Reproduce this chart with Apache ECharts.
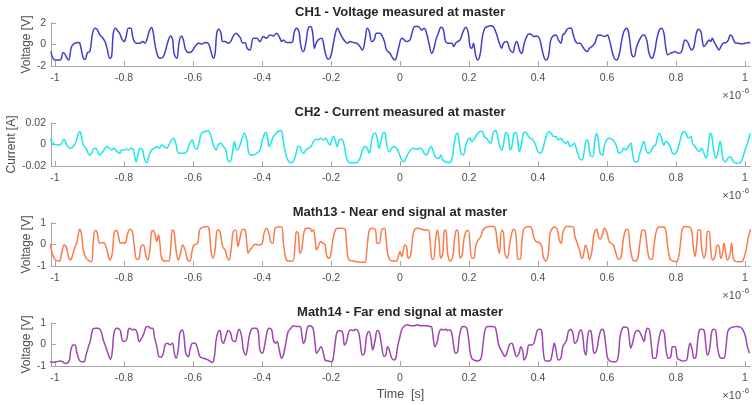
<!DOCTYPE html>
<html>
<head>
    <meta charset="utf-8">
    <title>CH1 / CH2 / Math13 / Math14</title>
    <script src="https://cdn.jsdelivr.net/npm/echarts@6.0.0/dist/echarts.min.js"></script>
    <style>
        html, body { margin: 0; padding: 0; background: #fff; }
        #main { width: 752px; height: 405px; }
    </style>
</head>
<body>
<div id="main"></div>
<script>
    // time in units of 1e-6 s
    var xTicks = [-1, -0.8, -0.6, -0.4, -0.2, 0, 0.2, 0.4, 0.6, 0.8, 1];

    var ch1 = [
        [-1.012,-0.66],[-1.000,-1.44],[-0.985,-1.44],[-0.976,-0.75],[-0.961,-1.44],[-0.952,-0.19],[-0.942,0.12],[-0.932,0.18],[-0.928,0.12],[-0.918,-1.28],
        [-0.913,-1.38],[-0.906,-0.75],[-0.899,-0.66],[-0.891,1.05],[-0.884,1.52],[-0.877,1.36],[-0.870,0.89],[-0.865,0.74],[-0.855,0.27],[-0.848,-0.51],
        [-0.841,-1.28],[-0.836,-1.13],[-0.831,1.05],[-0.824,1.52],[-0.819,1.30],[-0.813,1.05],[-0.807,0.58],[-0.800,0.27],[-0.794,0.74],[-0.787,1.52],
        [-0.780,1.52],[-0.775,0.74],[-0.770,0.27],[-0.763,0.12],[-0.754,0.12],[-0.746,0.27],[-0.739,0.12],[-0.734,0.43],[-0.727,1.21],[-0.720,1.58],
        [-0.715,1.05],[-0.710,-0.04],[-0.703,-0.97],[-0.696,-1.28],[-0.686,-1.13],[-0.678,-0.35],[-0.671,0.43],[-0.665,0.80],[-0.659,0.43],[-0.655,-0.82],
        [-0.647,-1.28],[-0.640,0.27],[-0.633,0.80],[-0.628,0.43],[-0.621,-0.51],[-0.613,-0.75],[-0.604,-0.66],[-0.594,-0.19],[-0.584,0.12],[-0.575,0.05],
        [-0.565,0.18],[-0.556,0.12],[-0.549,-0.51],[-0.541,-1.28],[-0.536,-0.82],[-0.531,1.05],[-0.525,1.42],[-0.519,1.05],[-0.514,0.27],[-0.507,0.27],
        [-0.498,0.12],[-0.491,0.27],[-0.483,0.80],[-0.475,1.05],[-0.469,0.89],[-0.462,0.58],[-0.456,0.12],[-0.449,0.18],[-0.443,-0.35],[-0.435,-0.51],
        [-0.425,0.58],[-0.415,0.58],[-0.406,0.27],[-0.396,0.74],[-0.387,0.58],[-0.377,0.89],[-0.367,0.80],[-0.358,1.05],[-0.348,0.58],[-0.343,0.27],
        [-0.338,0.43],[-0.329,0.18],[-0.314,0.18],[-0.306,1.21],[-0.300,1.52],[-0.293,1.21],[-0.287,-0.19],[-0.280,-0.66],[-0.273,0.12],[-0.266,1.52],
        [-0.259,1.67],[-0.253,1.05],[-0.248,-0.35],[-0.243,0.12],[-0.237,0.43],[-0.227,0.58],[-0.222,0.12],[-0.215,-0.97],[-0.208,-1.38],[-0.201,-1.13],
        [-0.193,0.12],[-0.186,1.21],[-0.181,1.52],[-0.174,1.05],[-0.166,0.58],[-0.159,0.27],[-0.153,0.12],[-0.145,0.27],[-0.135,0.18],[-0.126,0.12],
        [-0.116,-0.19],[-0.109,-0.51],[-0.101,0.49],[-0.095,1.52],[-0.089,1.21],[-0.082,0.27],[-0.075,0.43],[-0.068,1.05],[-0.058,1.05],[-0.051,0.74],
        [-0.045,0.27],[-0.039,-0.51],[-0.029,-0.82],[-0.021,-1.28],[-0.014,-1.44],[-0.010,-1.13],[-0.003,-0.19],[0.005,0.58],[0.010,0.49],[0.019,0.27],
        [0.029,0.43],[0.036,1.21],[0.043,1.67],[0.053,1.67],[0.063,1.36],[0.070,1.52],[0.077,1.05],[0.084,0.12],[0.092,-0.82],[0.097,-0.51],
        [0.104,0.43],[0.111,1.05],[0.119,1.61],[0.126,1.36],[0.132,0.27],[0.140,0.12],[0.150,0.12],[0.156,-0.19],[0.161,0.12],[0.167,0.27],
        [0.174,0.43],[0.183,1.21],[0.191,1.61],[0.198,1.05],[0.203,-0.19],[0.208,-0.35],[0.213,0.12],[0.219,-0.97],[0.225,-1.44],[0.232,-0.97],
        [0.239,0.74],[0.246,1.52],[0.254,1.67],[0.263,1.74],[0.270,1.67],[0.277,1.21],[0.282,0.74],[0.288,0.12],[0.295,-0.35],[0.300,0.12],
        [0.309,0.27],[0.319,-0.51],[0.327,-0.75],[0.333,-0.04],[0.338,0.27],[0.348,-0.66],[0.353,-0.82],[0.359,-0.04],[0.367,0.74],[0.375,0.99],
        [0.382,0.89],[0.388,0.74],[0.396,0.80],[0.404,0.58],[0.411,-0.35],[0.417,-1.13],[0.423,-1.44],[0.430,-1.13],[0.437,0.43],[0.444,0.80],
        [0.452,0.89],[0.459,0.43],[0.466,0.12],[0.472,0.89],[0.478,1.05],[0.483,1.36],[0.490,1.52],[0.496,1.52],[0.501,1.05],[0.507,0.43],
        [0.514,0.12],[0.522,0.12],[0.529,-0.19],[0.536,-0.51],[0.543,-0.66],[0.549,-0.35],[0.556,-0.19],[0.565,0.12],[0.572,0.80],[0.580,0.89],
        [0.587,0.80],[0.594,0.74],[0.601,0.89],[0.607,0.43],[0.614,-0.51],[0.621,-1.28],[0.628,-1.44],[0.635,-0.97],[0.643,0.43],[0.649,1.21],
        [0.657,1.52],[0.662,1.21],[0.667,0.12],[0.672,-0.97],[0.678,-1.13],[0.686,-0.19],[0.694,0.43],[0.701,0.80],[0.707,0.89],[0.715,0.43],
        [0.722,-0.82],[0.730,-1.28],[0.737,-0.82],[0.744,0.43],[0.752,1.36],[0.758,1.52],[0.765,1.05],[0.770,-0.19],[0.776,-0.97],[0.783,-0.82],
        [0.790,-0.75],[0.797,-0.66],[0.807,-0.82],[0.816,-0.66],[0.821,-0.04],[0.826,0.43],[0.833,0.27],[0.839,-0.19],[0.845,-0.51],[0.852,-0.19],
        [0.858,0.89],[0.865,1.42],[0.872,1.21],[0.876,0.43],[0.881,-0.19],[0.889,0.12],[0.896,0.43],[0.901,0.27],[0.905,0.58],[0.910,0.27],
        [0.918,-0.19],[0.925,-0.51],[0.930,-0.19],[0.937,0.12],[0.945,0.18],[0.952,0.43],[0.957,0.89],[0.963,0.74],[0.971,0.18],[0.981,0.12],
        [0.990,0.05],[1.000,0.12],[1.010,0.18],[1.015,0.12]
    ];

    var ch2 = [
        [-1.014,0.0049],[-1.005,0.0012],[-0.995,-0.0004],[-0.986,-0.0004],[-0.974,0.0049],[-0.966,-0.0004],[-0.957,-0.0035],[-0.947,-0.0019],[-0.939,0.0027],[-0.932,0.0105],
        [-0.928,0.0121],[-0.923,0.0074],[-0.918,-0.0004],[-0.910,-0.0035],[-0.900,-0.0097],[-0.894,-0.0082],[-0.886,-0.0035],[-0.879,-0.0045],[-0.871,-0.0097],[-0.865,-0.0082],
        [-0.858,-0.0051],[-0.850,-0.0019],[-0.842,-0.0035],[-0.836,-0.0051],[-0.829,-0.0035],[-0.821,-0.0066],[-0.813,-0.0082],[-0.807,-0.0051],[-0.800,-0.0051],[-0.794,-0.0045],
        [-0.787,-0.0051],[-0.780,-0.0035],[-0.773,-0.0045],[-0.765,-0.0160],[-0.758,-0.0066],[-0.754,-0.0035],[-0.746,-0.0051],[-0.741,-0.0128],[-0.734,-0.0169],[-0.727,-0.0097],
        [-0.720,-0.0051],[-0.712,-0.0035],[-0.705,-0.0019],[-0.698,-0.0035],[-0.691,-0.0004],[-0.684,-0.0019],[-0.676,-0.0035],[-0.670,-0.0004],[-0.662,0.0043],[-0.657,0.0058],
        [-0.650,0.0012],[-0.642,-0.0082],[-0.633,-0.0082],[-0.623,-0.0082],[-0.616,-0.0051],[-0.609,0.0012],[-0.602,0.0043],[-0.596,-0.0019],[-0.589,-0.0045],[-0.583,0.0012],
        [-0.575,0.0105],[-0.565,0.0121],[-0.556,0.0127],[-0.549,0.0089],[-0.541,-0.0004],[-0.533,-0.0051],[-0.527,-0.0004],[-0.520,0.0012],[-0.512,-0.0019],[-0.505,-0.0051],
        [-0.499,-0.0144],[-0.493,-0.0160],[-0.486,-0.0082],[-0.480,0.0027],[-0.473,-0.0051],[-0.467,-0.0035],[-0.459,0.0043],[-0.451,0.0105],[-0.444,0.0043],[-0.440,-0.0051],
        [-0.433,-0.0097],[-0.425,-0.0097],[-0.415,-0.0082],[-0.406,-0.0051],[-0.396,0.0074],[-0.389,0.0111],[-0.384,0.0058],[-0.379,-0.0019],[-0.374,0.0012],[-0.367,0.0074],
        [-0.359,0.0105],[-0.353,0.0121],[-0.345,0.0130],[-0.340,0.0074],[-0.335,-0.0035],[-0.329,-0.0113],[-0.322,-0.0160],[-0.314,-0.0169],[-0.307,-0.0144],[-0.301,-0.0082],
        [-0.295,-0.0019],[-0.290,-0.0019],[-0.285,-0.0066],[-0.280,-0.0082],[-0.273,-0.0051],[-0.266,-0.0035],[-0.258,-0.0019],[-0.251,0.0027],[-0.244,0.0049],[-0.237,0.0043],
        [-0.230,0.0058],[-0.222,0.0043],[-0.215,0.0058],[-0.210,0.0027],[-0.203,-0.0004],[-0.198,0.0043],[-0.193,0.0074],[-0.188,0.0043],[-0.182,-0.0019],[-0.176,0.0043],
        [-0.169,0.0049],[-0.162,-0.0004],[-0.155,-0.0128],[-0.145,-0.0169],[-0.135,-0.0169],[-0.126,-0.0169],[-0.116,-0.0128],[-0.109,-0.0051],[-0.101,-0.0019],[-0.095,-0.0035],
        [-0.089,-0.0082],[-0.084,-0.0004],[-0.079,0.0089],[-0.072,0.0105],[-0.066,0.0058],[-0.061,-0.0035],[-0.055,0.0027],[-0.048,0.0111],[-0.043,0.0105],[-0.039,0.0012],
        [-0.032,-0.0066],[-0.024,-0.0035],[-0.017,-0.0019],[-0.010,-0.0035],[-0.003,-0.0082],[0.005,-0.0144],[0.012,-0.0160],[0.017,-0.0128],[0.024,-0.0082],[0.031,-0.0051],
        [0.039,-0.0035],[0.048,-0.0045],[0.058,-0.0035],[0.065,-0.0051],[0.070,-0.0082],[0.077,-0.0097],[0.084,-0.0051],[0.090,-0.0019],[0.095,-0.0051],[0.100,-0.0097],
        [0.106,-0.0128],[0.113,-0.0128],[0.118,-0.0097],[0.124,-0.0144],[0.132,-0.0160],[0.142,-0.0169],[0.150,-0.0144],[0.156,-0.0019],[0.162,0.0089],[0.167,0.0105],
        [0.172,0.0012],[0.177,-0.0082],[0.183,-0.0097],[0.190,-0.0019],[0.196,0.0043],[0.203,0.0058],[0.208,0.0027],[0.214,0.0043],[0.222,0.0089],[0.232,0.0121],
        [0.239,0.0121],[0.244,0.0074],[0.251,0.0058],[0.258,0.0027],[0.263,0.0012],[0.270,0.0105],[0.277,0.0130],[0.283,0.0074],[0.288,-0.0004],[0.295,-0.0051],
        [0.302,0.0043],[0.307,0.0111],[0.314,0.0074],[0.319,-0.0051],[0.324,-0.0019],[0.331,0.0105],[0.336,0.0111],[0.341,0.0043],[0.346,-0.0066],[0.351,-0.0019],
        [0.358,0.0105],[0.364,0.0114],[0.370,0.0089],[0.377,0.0058],[0.384,0.0049],[0.391,0.0012],[0.398,-0.0051],[0.404,-0.0082],[0.411,-0.0066],[0.417,-0.0004],
        [0.425,0.0089],[0.432,0.0121],[0.438,0.0105],[0.445,0.0074],[0.451,0.0074],[0.459,0.0043],[0.466,0.0058],[0.473,0.0027],[0.480,0.0012],[0.486,0.0027],
        [0.493,-0.0019],[0.500,-0.0004],[0.505,0.0012],[0.512,-0.0051],[0.520,-0.0128],[0.527,-0.0144],[0.533,-0.0082],[0.541,0.0043],[0.546,0.0027],[0.551,-0.0097],
        [0.558,-0.0113],[0.565,0.0043],[0.570,0.0105],[0.575,0.0043],[0.580,-0.0082],[0.587,-0.0097],[0.592,-0.0019],[0.599,0.0043],[0.607,0.0058],[0.614,0.0049],
        [0.621,0.0027],[0.628,-0.0019],[0.635,-0.0082],[0.643,-0.0066],[0.649,-0.0035],[0.655,-0.0051],[0.662,-0.0019],[0.669,0.0012],[0.674,-0.0082],[0.681,-0.0160],
        [0.688,-0.0160],[0.694,-0.0097],[0.701,-0.0019],[0.707,0.0027],[0.713,-0.0051],[0.720,-0.0082],[0.727,-0.0066],[0.734,-0.0019],[0.741,-0.0004],[0.747,0.0074],
        [0.752,0.0105],[0.758,0.0058],[0.765,-0.0004],[0.771,0.0027],[0.778,0.0012],[0.785,-0.0035],[0.790,-0.0082],[0.797,-0.0088],[0.804,-0.0051],[0.810,0.0012],
        [0.816,0.0089],[0.823,0.0121],[0.829,0.0105],[0.836,0.0058],[0.843,0.0074],[0.848,0.0012],[0.855,-0.0019],[0.862,-0.0051],[0.868,-0.0066],[0.874,-0.0035],
        [0.881,-0.0082],[0.887,-0.0128],[0.894,-0.0019],[0.899,0.0105],[0.903,0.0089],[0.908,-0.0019],[0.915,-0.0128],[0.921,-0.0082],[0.928,0.0027],[0.932,-0.0035],
        [0.937,-0.0144],[0.944,-0.0160],[0.950,-0.0128],[0.957,-0.0113],[0.961,-0.0128],[0.966,-0.0160],[0.976,-0.0175],[0.986,-0.0169],[0.993,-0.0128],[1.000,-0.0051],
        [1.007,0.0012],[1.015,0.0105]
    ];

    var math13 = [
        [-1.015,0.06],[-1.005,-0.56],[-0.997,-0.74],[-0.987,-0.77],[-0.981,-0.41],[-0.973,-0.02],[-0.966,-0.17],[-0.961,-0.56],[-0.955,-0.72],[-0.949,-0.49],
        [-0.942,-0.10],[-0.937,0.06],[-0.932,0.53],[-0.928,0.71],[-0.923,0.45],[-0.918,-0.25],[-0.910,-0.64],[-0.900,-0.77],[-0.894,-0.80],[-0.889,0.14],
        [-0.884,0.65],[-0.879,0.60],[-0.874,0.21],[-0.870,0.06],[-0.860,0.09],[-0.852,-0.10],[-0.845,-0.56],[-0.841,-0.72],[-0.834,-0.41],[-0.828,0.60],
        [-0.821,0.65],[-0.816,0.37],[-0.810,0.06],[-0.802,0.09],[-0.797,0.06],[-0.789,0.53],[-0.783,0.71],[-0.776,0.60],[-0.770,-0.10],[-0.763,-0.69],
        [-0.756,-0.64],[-0.751,-0.10],[-0.744,-0.02],[-0.737,-0.49],[-0.731,-0.72],[-0.725,-0.25],[-0.720,0.60],[-0.715,0.65],[-0.710,0.45],[-0.705,0.14],
        [-0.700,0.45],[-0.696,0.06],[-0.691,-0.64],[-0.681,-0.77],[-0.671,-0.77],[-0.665,-0.25],[-0.660,0.68],[-0.655,0.60],[-0.649,-0.25],[-0.643,-0.72],
        [-0.636,-0.41],[-0.630,-0.02],[-0.623,-0.25],[-0.616,-0.69],[-0.609,-0.77],[-0.602,-0.25],[-0.597,-0.02],[-0.587,0.06],[-0.580,0.71],[-0.570,0.81],
        [-0.560,0.84],[-0.554,0.76],[-0.549,-0.10],[-0.543,-0.64],[-0.536,-0.25],[-0.531,0.60],[-0.525,0.68],[-0.519,0.37],[-0.514,-0.10],[-0.507,-0.25],
        [-0.500,-0.64],[-0.495,-0.72],[-0.490,-0.25],[-0.483,0.60],[-0.476,0.68],[-0.470,-0.10],[-0.464,0.29],[-0.456,0.71],[-0.449,0.68],[-0.444,0.06],
        [-0.440,-0.41],[-0.435,-0.25],[-0.430,-0.17],[-0.420,0.01],[-0.411,-0.02],[-0.401,0.01],[-0.394,0.53],[-0.387,0.76],[-0.380,0.53],[-0.375,0.14],
        [-0.369,0.06],[-0.362,0.76],[-0.353,0.81],[-0.343,0.81],[-0.338,0.06],[-0.331,-0.64],[-0.324,-0.77],[-0.311,-0.77],[-0.304,0.06],[-0.300,0.60],
        [-0.295,0.53],[-0.290,-0.41],[-0.285,-0.25],[-0.278,0.60],[-0.271,0.76],[-0.261,0.76],[-0.256,0.60],[-0.251,0.68],[-0.246,0.21],[-0.242,-0.25],
        [-0.237,-0.10],[-0.230,0.14],[-0.224,0.06],[-0.217,-0.02],[-0.213,-0.49],[-0.206,-0.64],[-0.201,-0.49],[-0.193,0.37],[-0.186,0.71],[-0.179,0.76],
        [-0.169,0.76],[-0.159,0.71],[-0.155,0.06],[-0.148,-0.72],[-0.135,-0.77],[-0.116,-0.82],[-0.101,-0.82],[-0.097,-0.41],[-0.090,0.60],[-0.082,0.76],
        [-0.072,0.71],[-0.066,0.06],[-0.060,0.06],[-0.053,0.68],[-0.045,0.76],[-0.041,0.37],[-0.036,-0.41],[-0.029,-0.72],[-0.019,-0.77],[-0.010,-0.77],
        [-0.005,-0.56],[0.000,-0.33],[0.005,-0.56],[0.010,-0.25],[0.014,-0.02],[0.019,-0.10],[0.024,-0.64],[0.031,-0.49],[0.037,0.37],[0.043,0.71],
        [0.053,0.76],[0.063,0.71],[0.072,0.68],[0.082,0.68],[0.087,0.21],[0.092,-0.64],[0.097,-0.69],[0.103,0.21],[0.108,0.68],[0.113,0.21],
        [0.118,-0.64],[0.124,-0.41],[0.128,0.60],[0.133,0.68],[0.138,-0.41],[0.145,-0.77],[0.153,-0.56],[0.159,0.37],[0.164,0.68],[0.169,0.53],
        [0.174,-0.64],[0.180,-0.49],[0.185,0.21],[0.191,0.60],[0.198,0.65],[0.203,-0.02],[0.208,-0.64],[0.214,-0.64],[0.220,-0.02],[0.227,0.21],
        [0.234,0.37],[0.242,0.71],[0.251,0.81],[0.261,0.84],[0.270,0.84],[0.277,0.71],[0.282,0.06],[0.288,-0.41],[0.295,0.68],[0.300,0.53],
        [0.304,-0.41],[0.311,-0.64],[0.317,-0.10],[0.324,0.53],[0.330,0.71],[0.336,0.45],[0.341,-0.64],[0.348,-0.69],[0.353,0.06],[0.358,0.68],
        [0.365,0.81],[0.375,0.84],[0.382,0.76],[0.387,0.37],[0.394,0.14],[0.404,0.09],[0.411,-0.10],[0.415,-0.56],[0.423,-0.77],[0.430,-0.41],
        [0.435,0.53],[0.442,0.76],[0.449,0.81],[0.456,0.68],[0.462,0.21],[0.467,0.06],[0.473,0.60],[0.483,0.84],[0.493,0.84],[0.502,0.81],
        [0.507,0.37],[0.512,0.14],[0.520,-0.25],[0.527,-0.64],[0.531,-0.56],[0.538,-0.02],[0.543,-0.25],[0.549,-0.69],[0.556,-0.33],[0.563,0.53],
        [0.570,0.71],[0.575,0.37],[0.580,0.25],[0.587,0.45],[0.592,0.76],[0.599,0.60],[0.606,0.14],[0.612,0.06],[0.618,-0.02],[0.626,-0.41],
        [0.633,-0.69],[0.641,-0.56],[0.647,0.21],[0.654,0.68],[0.660,0.71],[0.667,-0.10],[0.674,-0.69],[0.681,-0.77],[0.689,-0.64],[0.696,0.14],
        [0.703,0.68],[0.710,0.65],[0.715,0.06],[0.722,-0.64],[0.730,-0.69],[0.736,-0.10],[0.744,0.68],[0.754,0.81],[0.763,0.81],[0.770,0.68],
        [0.776,-0.10],[0.783,-0.69],[0.792,-0.77],[0.800,-0.80],[0.807,-0.64],[0.814,0.21],[0.819,0.76],[0.829,0.84],[0.839,0.81],[0.845,0.68],
        [0.850,-0.10],[0.855,-0.56],[0.860,-0.02],[0.865,0.68],[0.870,0.68],[0.874,-0.10],[0.881,-0.64],[0.887,-0.25],[0.891,0.60],[0.896,0.60],
        [0.901,-0.25],[0.906,-0.72],[0.913,-0.56],[0.920,-0.02],[0.925,-0.10],[0.930,-0.64],[0.935,-0.41],[0.939,0.06],[0.943,-0.25],[0.949,-0.72],
        [0.957,-0.41],[0.961,0.06],[0.966,-0.64],[0.971,-0.77],[0.981,-0.80],[0.990,-0.80],[0.995,-0.72],[1.003,-0.25],[1.010,0.37],[1.016,0.71]
    ];

    var math14 = [
        [-1.015,-0.80],[-1.005,-0.83],[-0.995,-0.80],[-0.986,-0.77],[-0.978,-0.80],[-0.971,-0.88],[-0.963,-0.84],[-0.958,-0.72],[-0.954,-0.25],[-0.947,-0.02],
        [-0.942,-0.02],[-0.937,-0.33],[-0.930,-0.72],[-0.923,-0.80],[-0.916,-0.80],[-0.910,-0.49],[-0.903,-0.10],[-0.897,0.21],[-0.891,0.68],[-0.884,0.76],
        [-0.877,0.76],[-0.870,0.71],[-0.865,0.53],[-0.860,0.21],[-0.853,-0.10],[-0.845,-0.49],[-0.839,-0.69],[-0.834,-0.33],[-0.829,0.53],[-0.821,0.76],
        [-0.813,0.71],[-0.810,0.60],[-0.805,0.21],[-0.799,0.14],[-0.792,0.25],[-0.787,0.71],[-0.783,0.76],[-0.776,0.68],[-0.770,0.71],[-0.763,0.60],
        [-0.756,0.14],[-0.749,0.29],[-0.742,0.53],[-0.736,0.81],[-0.729,0.84],[-0.723,0.76],[-0.717,0.76],[-0.712,0.37],[-0.705,-0.10],[-0.699,-0.56],
        [-0.693,-0.59],[-0.686,-0.41],[-0.681,-0.02],[-0.674,0.06],[-0.667,-0.02],[-0.660,0.06],[-0.654,-0.41],[-0.649,-0.64],[-0.643,-0.25],[-0.638,0.53],
        [-0.631,0.68],[-0.626,0.37],[-0.621,-0.41],[-0.613,-0.56],[-0.609,-0.25],[-0.601,0.06],[-0.594,0.06],[-0.587,-0.17],[-0.580,-0.56],[-0.570,-0.64],
        [-0.560,-0.69],[-0.551,-0.77],[-0.544,-0.84],[-0.538,-0.56],[-0.533,0.21],[-0.527,0.60],[-0.522,0.65],[-0.517,0.21],[-0.512,0.06],[-0.505,0.37],
        [-0.498,0.65],[-0.491,0.53],[-0.486,0.21],[-0.478,0.14],[-0.471,0.53],[-0.466,0.71],[-0.459,0.37],[-0.454,-0.25],[-0.447,-0.49],[-0.443,-0.25],
        [-0.435,0.53],[-0.425,0.76],[-0.417,0.76],[-0.411,0.60],[-0.406,-0.25],[-0.399,-0.41],[-0.393,-0.10],[-0.386,0.53],[-0.380,0.76],[-0.372,0.68],
        [-0.367,0.21],[-0.360,0.06],[-0.356,0.14],[-0.350,-0.25],[-0.343,-0.64],[-0.338,-0.49],[-0.331,0.06],[-0.324,0.60],[-0.316,0.76],[-0.309,0.87],
        [-0.300,0.84],[-0.290,0.84],[-0.285,0.53],[-0.280,0.06],[-0.275,0.21],[-0.270,0.68],[-0.264,0.87],[-0.256,0.84],[-0.251,0.68],[-0.246,0.06],
        [-0.242,-0.41],[-0.235,-0.25],[-0.229,-0.10],[-0.222,-0.41],[-0.217,-0.72],[-0.208,-0.77],[-0.198,-0.80],[-0.193,-0.56],[-0.188,0.06],[-0.182,0.60],
        [-0.174,0.65],[-0.166,0.53],[-0.161,-0.02],[-0.155,0.14],[-0.148,0.60],[-0.142,0.68],[-0.135,0.65],[-0.128,0.71],[-0.121,0.60],[-0.116,0.21],
        [-0.109,-0.49],[-0.103,-0.41],[-0.097,0.37],[-0.090,0.60],[-0.085,0.37],[-0.079,-0.25],[-0.072,0.21],[-0.066,0.65],[-0.060,0.56],[-0.053,-0.10],
        [-0.046,-0.56],[-0.041,-0.49],[-0.036,-0.10],[-0.031,-0.25],[-0.024,-0.64],[-0.017,-0.72],[-0.012,-0.64],[-0.007,-0.10],[0.000,0.37],[0.004,0.65],
        [0.011,0.84],[0.021,0.92],[0.031,0.87],[0.041,0.87],[0.050,0.92],[0.060,0.87],[0.070,0.87],[0.079,0.87],[0.087,0.84],[0.092,0.81],
        [0.097,0.21],[0.101,-0.10],[0.108,0.14],[0.113,0.53],[0.119,0.71],[0.126,0.68],[0.132,0.71],[0.138,0.65],[0.145,0.68],[0.150,0.53],
        [0.156,-0.10],[0.161,-0.41],[0.167,-0.33],[0.172,0.37],[0.179,0.81],[0.185,0.84],[0.193,0.76],[0.198,0.37],[0.203,-0.33],[0.208,-0.64],
        [0.214,-0.72],[0.222,-0.77],[0.232,-0.72],[0.237,-0.49],[0.242,0.21],[0.248,0.76],[0.256,0.84],[0.266,0.84],[0.275,0.81],[0.280,0.53],
        [0.285,0.06],[0.290,-0.17],[0.298,-0.41],[0.304,-0.56],[0.311,-0.33],[0.317,-0.02],[0.324,0.06],[0.331,-0.25],[0.338,-0.56],[0.345,-0.41],
        [0.350,-0.10],[0.356,-0.33],[0.360,-0.72],[0.367,-0.49],[0.374,-0.02],[0.382,-0.02],[0.388,0.06],[0.393,0.37],[0.399,0.68],[0.406,0.71],
        [0.411,0.60],[0.416,-0.41],[0.422,-0.77],[0.430,-0.77],[0.437,-0.72],[0.443,-0.25],[0.447,0.06],[0.452,-0.25],[0.459,-0.72],[0.466,-0.64],
        [0.472,-0.10],[0.478,0.06],[0.483,0.21],[0.488,0.60],[0.495,0.71],[0.501,0.53],[0.507,0.06],[0.514,0.21],[0.520,0.60],[0.525,0.68],
        [0.530,0.37],[0.534,-0.25],[0.539,-0.49],[0.543,0.21],[0.549,0.65],[0.554,0.60],[0.559,-0.10],[0.563,-0.41],[0.570,-0.25],[0.577,0.37],
        [0.583,0.68],[0.588,0.71],[0.592,0.53],[0.597,-0.10],[0.602,-0.64],[0.609,-0.77],[0.618,-0.80],[0.626,-0.80],[0.633,-0.49],[0.638,0.37],
        [0.645,0.76],[0.652,0.81],[0.660,0.76],[0.664,0.37],[0.669,-0.17],[0.674,0.06],[0.681,0.53],[0.688,0.65],[0.694,0.60],[0.701,0.37],
        [0.707,0.14],[0.712,0.53],[0.717,0.76],[0.723,0.68],[0.730,-0.25],[0.734,-0.64],[0.741,-0.64],[0.747,-0.10],[0.754,0.53],[0.760,0.68],
        [0.766,0.53],[0.771,-0.25],[0.778,-0.64],[0.785,-0.56],[0.790,-0.10],[0.797,-0.10],[0.804,-0.64],[0.812,-0.72],[0.821,-0.77],[0.831,-0.72],
        [0.836,-0.25],[0.841,0.06],[0.847,-0.25],[0.852,-0.64],[0.858,-0.56],[0.863,0.21],[0.868,0.68],[0.874,0.71],[0.881,0.68],[0.886,0.06],
        [0.891,-0.49],[0.897,-0.25],[0.903,0.53],[0.908,0.71],[0.915,0.65],[0.920,-0.10],[0.926,-0.56],[0.932,-0.64],[0.939,-0.64],[0.945,-0.10],
        [0.950,0.60],[0.957,0.76],[0.966,0.81],[0.976,0.84],[0.986,0.81],[0.993,0.71],[1.000,0.45],[1.007,-0.10],[1.013,-0.41]
    ];

    var font = '"Liberation Sans", Arial, sans-serif';
    var axisGrey = '#a6a6a6';
    var labelGrey = '#4d4d4d';

    // one entry per subplot
    var panels = [
        { title: 'CH1 - Voltage measured at master', data: ch1, color: '#3f3fc9',
          min: -2, max: 2, step: 2, yName: 'Voltage [V]', nameGap: 18 },
        { title: 'CH2 - Current measured at master', data: ch2, color: '#1ee6ec',
          min: -0.02, max: 0.02, step: 0.02, yName: 'Current [A]', nameGap: 33 },
        { title: 'Math13 - Near end signal at master', data: math13, color: '#fb7b4c',
          min: -1, max: 1, step: 1, yName: 'Voltage [V]', nameGap: 18 },
        { title: 'Math14 - Far end signal at master', data: math14, color: '#9c46b0',
          min: -1, max: 1, step: 1, yName: 'Voltage [V]', nameGap: 18 }
    ];

    var grids = [], xAxes = [], yAxes = [], series = [], graphics = [];
    panels.forEach(function (p, i) {
        var top = 23 + i * 100;
        grids.push({ left: 51, width: 699, top: top, height: 43, outerBoundsMode: 'none', containLabel: false });
        xAxes.push({
            type: 'value', gridIndex: i, min: -1.0116, max: 1.0145,
            name: i === 3 ? 'Time  [s]' : '', nameLocation: 'middle', nameGap: 22, nameMoveOverlap: false,
            nameTextStyle: { color: labelGrey, fontSize: 12.5, fontFamily: font },
            axisLine: { onZero: false, lineStyle: { color: axisGrey } },
            axisTick: { inside: true, length: 5, customValues: xTicks, lineStyle: { color: axisGrey } },
            axisLabel: { customValues: xTicks, margin: 7, color: labelGrey, fontSize: 10.5, fontFamily: font },
            splitLine: { show: false }
        });
        yAxes.push({
            type: 'value', gridIndex: i, min: p.min, max: p.max, interval: p.step,
            name: p.yName, nameLocation: 'middle', nameGap: p.nameGap, nameMoveOverlap: false,
            nameTextStyle: { color: labelGrey, fontSize: 12, fontFamily: font },
            axisLine: { show: true, onZero: false, lineStyle: { color: axisGrey } },
            axisTick: { show: true, inside: true, length: 5, lineStyle: { color: axisGrey } },
            axisLabel: { margin: 5, color: labelGrey, fontSize: 10.5, fontFamily: font },
            splitLine: { show: false }
        });
        series.push({
            type: 'line', xAxisIndex: i, yAxisIndex: i, data: p.data,
            showSymbol: false, smooth: 0.4, animation: false,
            lineStyle: { color: p.color, width: 1.5 }
        });
        graphics.push({
            type: 'text', x: 400, y: 12 + i * 100,
            style: { text: p.title, font: 'bold 13px ' + font, fill: '#262626', align: 'center', verticalAlign: 'middle' }
        });
        graphics.push({
            type: 'text', x: 741, y: 96 + i * 100,
            style: { text: '\u00d710', font: '11px ' + font, fill: labelGrey, align: 'right', verticalAlign: 'middle' }
        });
        graphics.push({
            type: 'text', x: 742, y: 91 + i * 100,
            style: { text: '-6', font: '8px ' + font, fill: labelGrey, align: 'left', verticalAlign: 'middle' }
        });
    });

    var chart = echarts.init(document.getElementById('main'));
    chart.setOption({
        backgroundColor: '#fff',
        animation: false,
        grid: grids,
        xAxis: xAxes,
        yAxis: yAxes,
        series: series,
        graphic: graphics
    });
</script>
</body>
</html>
